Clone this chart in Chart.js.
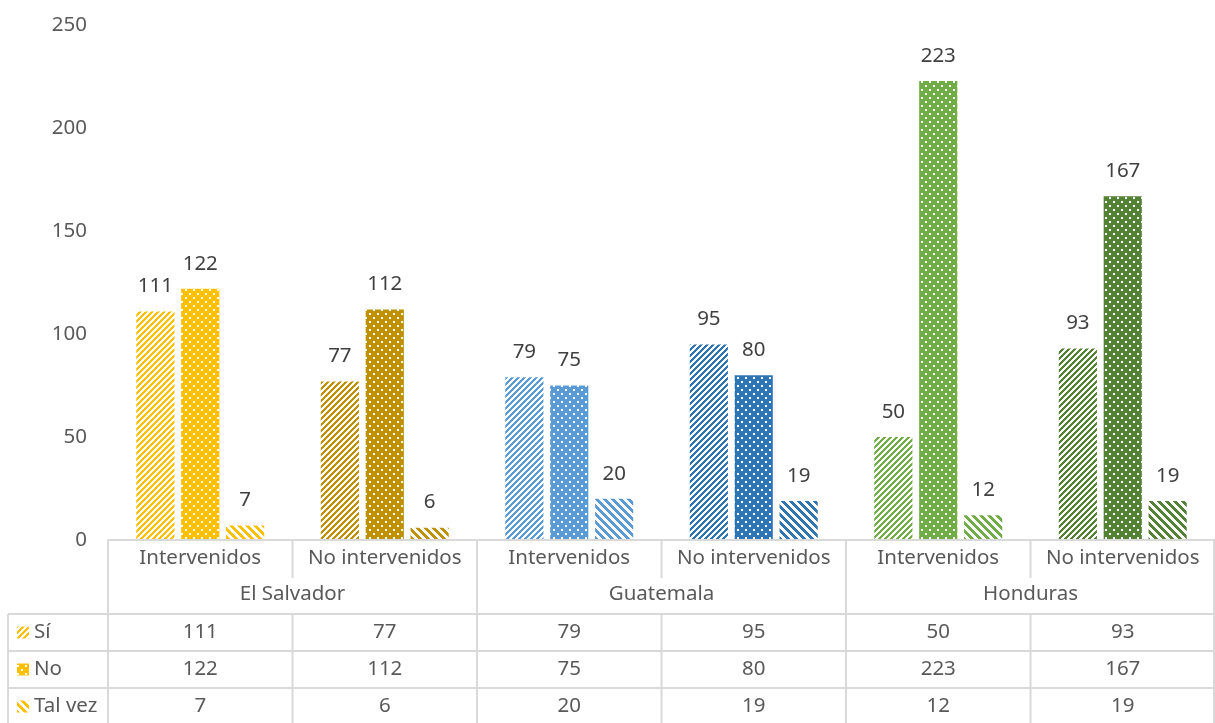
<!DOCTYPE html>
<html>
<head>
<meta charset="utf-8">
<script src="https://cdn.jsdelivr.net/npm/chart.js@4/dist/chart.umd.min.js"></script>
<style>
  html, body { margin: 0; padding: 0; background: #fff; }
</style>
</head>
<body>
<canvas id="chart" width="1215" height="723"></canvas>
<script>
const categories = ['Intervenidos', 'No intervenidos', 'Intervenidos', 'No intervenidos', 'Intervenidos', 'No intervenidos'];
const groups = ['El Salvador', 'Guatemala', 'Honduras'];
const seriesNames = ['Sí', 'No', 'Tal vez'];
const si = [111, 77, 79, 95, 50, 93];
const no = [122, 112, 75, 80, 223, 167];
const talVez = [7, 6, 20, 19, 12, 19];
const yTicks = [0, 50, 100, 150, 200, 250];

const barColors = ['#FFC000', '#BF9000', '#5B9BD5', '#2E75B6', '#70AD47', '#548235'];
const FONT = '"Noto Sans", "Open Sans", sans-serif';
const FSIZE = 20.5;
const TXT = '#595959';
const LINE = '#D9D9D9';

// patterns: 'up' = /, 'dots', 'down' = \
function makePattern(color, kind) {
  const size = kind === 'up' ? 6 : 8;
  const c = document.createElement('canvas');
  c.width = size; c.height = size;
  const g = c.getContext('2d');
  g.fillStyle = '#fff';
  g.fillRect(0, 0, size, size);
  g.fillStyle = color;
  if (kind === 'dots') {
    g.fillRect(0, 0, size, size);
    g.fillStyle = '#fff';
    g.fillRect(1, 1, 2, 2);
    g.fillRect(5, 5, 2, 2);
  } else {
    for (let y = 0; y < size; y++) {
      for (let x = 0; x < size; x++) {
        const v = kind === 'up' ? (x + y) % size : ((x - y) % size + size) % size;
        if (v < size / 2) g.fillRect(x, y, 1, 1);
      }
    }
  }
  return g.createPattern(c, 'repeat');
}

const kinds = ['up', 'dots', 'down'];
const values = [si, no, talVez];

const dataLabels = {
  id: 'dataLabels',
  afterDatasetsDraw(chart) {
    const ctx = chart.ctx;
    ctx.save();
    ctx.font = FSIZE + 'px ' + FONT;
    ctx.fillStyle = '#404040';
    ctx.textAlign = 'center';
    ctx.textBaseline = 'middle';
    chart.data.datasets.forEach((ds, di) => {
      chart.getDatasetMeta(di).data.forEach((el, i) => {
        ctx.fillText(String(ds.data[i]), el.x, el.y - 25);
      });
    });
    ctx.restore();
  }
};

const dataTable = {
  id: 'dataTable',
  afterDraw(chart) {
    const ctx = chart.ctx;
    const xs = chart.scales.x;
    const bottom = chart.chartArea.bottom;
    const n = categories.length;
    const cw = (xs.right - xs.left) / n;
    const rowCat = bottom + 38;
    const rowGrp = bottom + 74;
    const rows = [rowGrp, rowGrp + 37, rowGrp + 74, rowGrp + 111];
    const legLeft = 8;

    ctx.save();
    ctx.strokeStyle = LINE;
    ctx.lineWidth = 2;
    ctx.beginPath();
    // axis line
    ctx.moveTo(xs.left, bottom); ctx.lineTo(xs.right, bottom);
    // horizontal rows of data table
    for (let r = 0; r < 3; r++) {
      ctx.moveTo(legLeft, rows[r]); ctx.lineTo(xs.right, rows[r]);
    }
    // verticals
    for (let i = 0; i <= n; i++) {
      const x = Math.min(xs.left + i * cw, xs.right - 1);
      if (i % 2 === 0) {
        ctx.moveTo(x, bottom); ctx.lineTo(x, chart.height);
      } else {
        ctx.moveTo(x, bottom); ctx.lineTo(x, rowCat);
        ctx.moveTo(x, rowGrp); ctx.lineTo(x, chart.height);
      }
    }
    ctx.moveTo(legLeft, rowGrp); ctx.lineTo(legLeft, chart.height);
    ctx.stroke();

    ctx.font = FSIZE + 'px ' + FONT;
    ctx.fillStyle = TXT;
    ctx.textAlign = 'center';
    ctx.textBaseline = 'middle';
    categories.forEach((c, i) => {
      ctx.fillText(c, xs.getPixelForValue(i), bottom + 18);
    });
    groups.forEach((g, gi) => {
      ctx.fillText(g, xs.left + (gi * 2 + 1) * cw, bottom + 54);
    });
    values.forEach((vals, r) => {
      const cy = (rows[r] + rows[r + 1]) / 2;
      vals.forEach((v, i) => {
        ctx.fillText(String(v), xs.getPixelForValue(i), cy);
      });
      // legend key
      ctx.fillStyle = makePattern(barColors[0], kinds[r]);
      ctx.fillRect(17, cy - 6, 12, 12);
      ctx.fillStyle = TXT;
      ctx.textAlign = 'left';
      ctx.fillText(seriesNames[r], 34, cy);
      ctx.textAlign = 'center';
    });
    ctx.restore();
  }
};

const ctx = document.getElementById('chart').getContext('2d');
new Chart(ctx, {
  type: 'bar',
  data: {
    labels: categories,
    datasets: values.map((vals, d) => ({
      label: seriesNames[d],
      data: vals,
      backgroundColor: barColors.map(c => makePattern(c, kinds[d])),
      borderWidth: 0,
      categoryPercentage: 0.73,
      barPercentage: 0.85
    }))
  },
  options: {
    responsive: false,
    devicePixelRatio: 1,
    animation: false,
    layout: { padding: { top: 12, bottom: 183, left: 0, right: 0 } },
    plugins: {
      legend: { display: false },
      tooltip: { enabled: false }
    },
    scales: {
      x: {
        grid: { display: false },
        border: { display: false },
        ticks: { display: false },
        afterFit(scale) { scale.height = 0; }
      },
      y: {
        min: 0,
        max: 250,
        afterBuildTicks(scale) { scale.ticks = yTicks.map(v => ({ value: v })); },
        grid: { display: false },
        border: { display: false },
        ticks: {
          color: TXT,
          padding: 13,
          font: { size: FSIZE, family: FONT }
        },
        afterFit(scale) { scale.width = 108; }
      }
    }
  },
  plugins: [dataLabels, dataTable]
});
</script>
</body>
</html>
